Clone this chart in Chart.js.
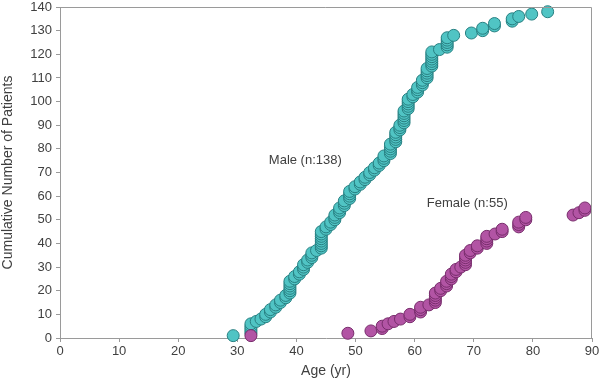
<!DOCTYPE html>
<html>
<head>
<meta charset="utf-8">
<script src="https://cdn.jsdelivr.net/npm/chart.js@4.4.1/dist/chart.umd.min.js"></script>
<style>
  html, body { margin: 0; padding: 0; background: #fff; }
</style>
</head>
<body>
<canvas id="chart" width="599" height="380"></canvas>
<script>
// ages (yr) of each patient, sorted; the y value is the running count
const maleAges = [
    29.3,
    32.3, 32.3, 32.3, 32.3, 32.3,
    33.2, 34.0, 34.8, 34.8, 35.6, 35.6, 36.5, 36.5, 37.3, 37.3, 38.2, 38.2,
    38.9, 38.9, 38.9, 38.9, 38.9, 38.9,
    39.7, 39.7, 40.5, 40.5, 41.2, 41.2, 41.2, 41.9, 41.9, 42.6, 42.6, 42.6, 43.4,
    44.2, 44.2, 44.2, 44.2, 44.2, 44.2, 44.2, 44.2,
    45.0, 45.0, 45.8, 45.8, 46.5, 46.5, 46.5, 47.3, 47.3, 47.3, 48.1, 48.1, 48.1,
    49.0, 49.0, 49.0, 49.0, 49.9, 49.9, 50.8, 50.8, 51.6, 51.6, 52.4, 52.4,
    53.2, 53.2, 54.0, 54.0, 54.8, 54.8, 54.8,
    55.9, 55.9, 55.9, 55.9, 55.9,
    56.8, 56.8, 56.8, 56.8, 56.8,
    57.5, 57.5, 57.5,
    58.2, 58.2, 58.2, 58.2, 58.2, 58.2,
    58.9, 58.9, 58.9, 58.9, 58.9,
    59.7, 59.7, 60.5, 60.5, 60.5, 61.3, 61.3, 61.3,
    62.1, 62.1, 62.1, 62.1, 62.1,
    62.9, 62.9, 62.9, 62.9, 62.9, 62.9, 62.9,
    64.2,
    65.5, 65.5, 65.5, 65.5, 65.5,
    66.6, 69.6, 71.5, 71.5, 73.5, 73.5, 76.5, 76.5, 77.6, 79.8, 82.5
];
const femaleAges = [
    32.3, 48.7, 52.6, 54.5, 54.5, 55.5, 56.5, 57.6, 59.2, 59.2,
    61.0, 61.0, 61.0, 62.4,
    63.5, 63.5, 63.5, 63.5, 63.5,
    64.4, 64.4, 65.4, 65.4, 65.4, 66.2, 66.2, 66.2, 67.0, 67.0, 67.8,
    68.6, 68.6, 68.6, 68.6, 68.6, 69.4, 69.4, 70.6, 70.6,
    72.2, 72.2, 72.2, 72.2, 73.6, 74.8, 74.8,
    77.6, 77.6, 77.6, 78.8, 78.8, 86.8, 87.8, 88.8, 88.8
];
const xTicks = [0, 10, 20, 30, 40, 50, 60, 70, 80, 90];
const yTicks = [0, 10, 20, 30, 40, 50, 60, 70, 80, 90, 100, 110, 120, 130, 140];

const labels = [
    { text: 'Male (n:138)', x: 41.5, y: 75 },
    { text: 'Female (n:55)', x: 68.9, y: 57 }
];

function cumulative(ages) {
    return ages.map((age, i) => ({ x: age, y: i + 1 }));
}

// top/right frame and the two series labels
const extras = {
    id: 'extras',
    afterDraw(chart) {
        const ctx = chart.ctx;
        const a = chart.chartArea;
        ctx.save();
        ctx.strokeStyle = '#9a9a9a';
        ctx.lineWidth = 1;
        ctx.beginPath();
        ctx.moveTo(a.left, a.top + 0.5);
        ctx.lineTo(a.right - 0.5, a.top + 0.5);
        ctx.lineTo(a.right - 0.5, a.bottom);
        ctx.stroke();
        ctx.fillStyle = '#404040';
        ctx.font = '13px "Liberation Sans", Arial, sans-serif';
        ctx.textAlign = 'center';
        ctx.textBaseline = 'middle';
        labels.forEach(l => {
            ctx.fillText(l.text, chart.scales.x.getPixelForValue(l.x), chart.scales.y.getPixelForValue(l.y));
        });
        ctx.restore();
    }
};

const tickFont = { family: '"Liberation Sans", Arial, sans-serif', size: 13 };
const titleFont = { family: '"Liberation Sans", Arial, sans-serif', size: 14 };

new Chart(document.getElementById('chart').getContext('2d'), {
    type: 'scatter',
    data: {
        datasets: [
            {
                label: 'Female',
                data: cumulative(femaleAges),
                backgroundColor: 'rgb(178, 84, 164)',
                borderColor: 'rgb(120, 45, 108)',
                borderWidth: 1,
                pointRadius: 6,
                clip: false
            },
            {
                label: 'Male',
                data: cumulative(maleAges),
                backgroundColor: 'rgb(80, 196, 196)',
                borderColor: 'rgb(40, 128, 130)',
                borderWidth: 1,
                pointRadius: 6,
                clip: false
            }
        ]
    },
    options: {
        responsive: false,
        animation: false,
        events: [],
        layout: { padding: { top: 5, right: 7, left: 0, bottom: 0 } },
        plugins: {
            legend: { display: false },
            tooltip: { enabled: false }
        },
        scales: {
            x: {
                type: 'linear',
                min: 0,
                max: 90,
                afterBuildTicks: s => { s.ticks = xTicks.map(v => ({ value: v })); },
                afterFit: s => { s.height = 42; s.paddingLeft = 0; s.paddingRight = 0; },
                ticks: { color: '#404040', font: tickFont, padding: 2, maxRotation: 0, autoSkip: false },
                grid: { drawOnChartArea: false, drawTicks: true, tickLength: 4, color: '#9a9a9a' },
                border: { color: '#9a9a9a' },
                title: { display: true, text: 'Age (yr)', color: '#404040', font: titleFont, padding: { top: 0, bottom: 0 } }
            },
            y: {
                type: 'linear',
                min: 0,
                max: 140,
                afterBuildTicks: s => { s.ticks = yTicks.map(v => ({ value: v })); },
                afterFit: s => { s.width = 60; s.paddingTop = 0; s.paddingBottom = 0; },
                ticks: { color: '#404040', font: tickFont, padding: 4, autoSkip: false },
                grid: { drawOnChartArea: false, drawTicks: true, tickLength: 4, color: '#9a9a9a' },
                border: { color: '#9a9a9a' },
                title: { display: true, text: 'Cumulative Number of Patients', color: '#404040', font: titleFont, padding: { top: 0, bottom: 2 } }
            }
        }
    },
    plugins: [extras]
});
</script>
</body>
</html>
